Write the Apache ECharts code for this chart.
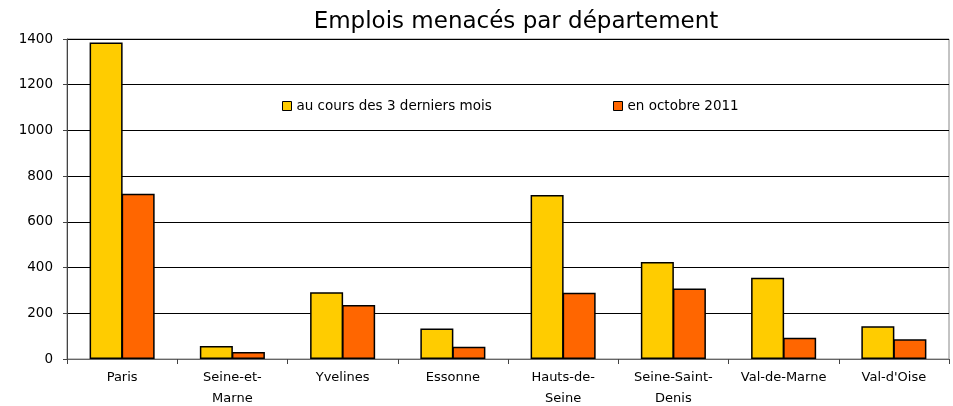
<!DOCTYPE html>
<html><head><meta charset="utf-8">
<script src="https://cdn.jsdelivr.net/npm/echarts@6/dist/echarts.min.js"></script>
<style>html,body{margin:0;padding:0;background:#fff}#c{width:953px;height:406px}</style>
</head><body><div id="c"></div>
<script>
const categories = ["Paris","Seine-et-\nMarne","Yvelines","Essonne","Hauts-de-\nSeine","Seine-Saint-\nDenis","Val-de-Marne","Val-d'Oise"];
const seriesNames = ["au cours des 3 derniers mois","en octobre 2011"];
const last3Months = [1385, 57, 292, 133, 717, 424, 356, 143];
const october2011 = [723, 31, 236, 54, 290, 308, 93, 86];
const yTicks = {min: 0, max: 1400, interval: 200};

const chart = echarts.init(document.getElementById('c'), null, {renderer:'canvas'});
const barStyle = (c) => ({color: c, borderColor: '#000', borderWidth: 1.5});
const legTxt = {fontFamily: 'DejaVu Sans', fontSize: 13.5, color: '#000'};
chart.setOption({
  animation: false,
  backgroundColor: '#fff',
  title: {text: 'Emplois menacés par département', left: 511, top: 6, textAlign: 'center',
    textStyle: {fontFamily: 'DejaVu Sans', fontSize: 23, fontWeight: 'normal', color: '#000'}},
  legend: [
    {data: [{name: seriesNames[0], itemStyle: {borderColor:'#000', borderWidth:1}}],
     top: 94, left: 277, itemWidth: 9, itemHeight: 9, icon: 'rect', textStyle: legTxt},
    {data: [{name: seriesNames[1], itemStyle: {borderColor:'#000', borderWidth:1}}],
     top: 94, left: 608, itemWidth: 9, itemHeight: 9, icon: 'rect', textStyle: legTxt}
  ],
  grid: {left: 67, right: 4, top: 39, bottom: 47, show: true, borderColor: '#888', borderWidth: 1,
    containLabel: false, outerBoundsMode: 'none'},
  xAxis: {
    type: 'category', data: categories,
    axisLine: {lineStyle: {color: '#666', width: 1}},
    axisTick: {show: true, length: 5, lineStyle: {color: '#444'}},
    axisLabel: {interval: 0, hideOverlap: false, fontFamily: 'DejaVu Sans', fontSize: 13, color: '#000', lineHeight: 21, margin: 8}
  },
  yAxis: {
    type: 'value', min: yTicks.min, max: yTicks.max, interval: yTicks.interval,
    axisLine: {show: true, lineStyle: {color: '#444'}},
    axisTick: {show: true, length: 4, lineStyle: {color: '#444'}},
    splitLine: {lineStyle: {color: '#000', width: 1}},
    axisLabel: {fontFamily: 'DejaVu Sans', fontSize: 13.5, color: '#000', margin: 14,
      formatter: (v) => String(v)}
  },
  series: [
    {name: seriesNames[0], type: 'bar', data: last3Months, itemStyle: barStyle('#FFCC00'),
     barGap: '-3%', barCategoryGap: '41%'},
    {name: seriesNames[1], type: 'bar', data: october2011, itemStyle: barStyle('#FF6600'),
     barGap: '-3%', barCategoryGap: '41%'}
  ]
});
</script></body></html>
